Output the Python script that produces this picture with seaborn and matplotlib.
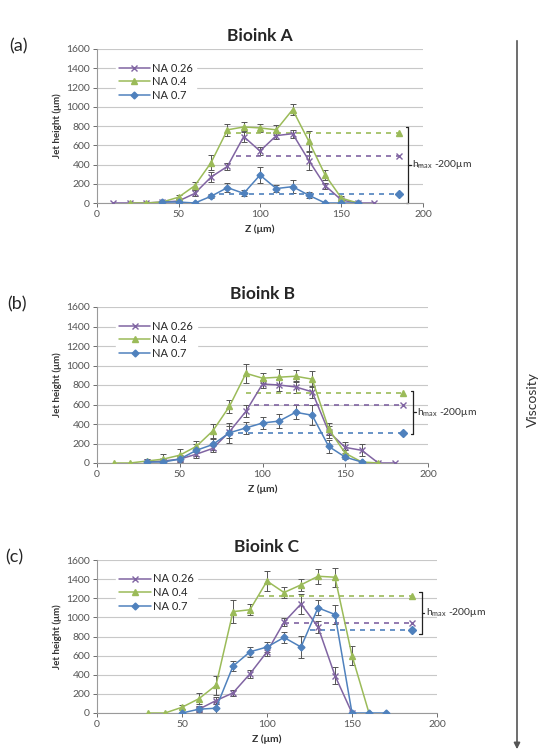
import matplotlib
matplotlib.use("Agg")
import matplotlib.pyplot as plt
import seaborn as sns
import pandas as pd

# ---- data ----
labels = ["NA 0.26", "NA 0.4", "NA 0.7"]

a_z_026 = [10, 20, 30, 40, 50, 60, 70, 80, 90, 100, 110, 120, 130, 140, 150, 160, 170]
a_h_026 = [0, 0, 0, 10, 20, 100, 270, 380, 690, 540, 700, 720, 440, 180, 30, 0, 0]
a_e_026 = [0, 0, 0, 10, 10, 30, 50, 40, 60, 40, 40, 40, 100, 30, 10, 0, 0]
a_z_04 = [20, 30, 40, 50, 60, 70, 80, 90, 100, 110, 120, 130, 140, 150, 160]
a_h_04 = [0, 0, 10, 60, 180, 420, 760, 790, 780, 760, 970, 640, 290, 50, 0]
a_e_04 = [0, 0, 10, 20, 40, 80, 60, 50, 40, 50, 60, 110, 50, 20, 0]
a_z_07 = [40, 50, 60, 70, 80, 90, 100, 110, 120, 130, 140, 150, 160]
a_h_07 = [10, 10, 0, 70, 160, 100, 290, 150, 170, 80, 0, 0, 0]
a_e_07 = [10, 10, 0, 20, 50, 30, 80, 40, 70, 30, 0, 0, 0]

b_z_026 = [30, 40, 50, 60, 70, 80, 90, 100, 110, 120, 130, 140, 150, 160, 170, 180]
b_h_026 = [10, 20, 40, 90, 150, 320, 530, 810, 800, 780, 730, 320, 160, 130, 0, 0]
b_e_026 = [10, 20, 30, 40, 40, 60, 60, 40, 60, 60, 60, 60, 60, 60, 0, 0]
b_z_04 = [10, 20, 30, 40, 50, 60, 70, 80, 90, 100, 110, 120, 130, 140, 150, 160, 170]
b_h_04 = [0, 0, 20, 40, 80, 170, 330, 580, 920, 870, 880, 890, 860, 350, 100, 10, 0]
b_e_04 = [0, 0, 20, 50, 60, 60, 70, 70, 100, 50, 80, 60, 80, 60, 30, 10, 0]
b_z_07 = [30, 40, 50, 60, 70, 80, 90, 100, 110, 120, 130, 140, 150, 160]
b_h_07 = [10, 10, 40, 130, 190, 310, 360, 410, 430, 520, 490, 170, 60, 10]
b_e_07 = [10, 20, 40, 60, 60, 100, 60, 60, 70, 70, 100, 70, 20, 10]

c_z_026 = [60, 70, 80, 90, 100, 110, 120, 130, 140, 150]
c_h_026 = [40, 130, 210, 410, 640, 950, 1140, 900, 390, 0]
c_e_026 = [20, 40, 30, 40, 40, 40, 100, 60, 90, 0]
c_z_04 = [30, 40, 50, 60, 70, 80, 90, 100, 110, 120, 130, 140, 150, 160]
c_h_04 = [0, 0, 60, 150, 290, 1060, 1080, 1380, 1260, 1340, 1430, 1420, 600, 0]
c_e_04 = [0, 0, 20, 60, 100, 120, 60, 100, 60, 60, 80, 100, 100, 0]
c_z_07 = [50, 60, 70, 80, 90, 100, 110, 120, 130, 140, 150, 160, 170]
c_h_07 = [0, 40, 50, 490, 640, 690, 790, 690, 1100, 1030, 0, 0, 0]
c_e_07 = [0, 30, 60, 50, 50, 50, 60, 120, 80, 100, 0, 0, 0]

# dashed "steady" levels: (level, start z) per NA, end at z=185
a_levels = [490, 730, 90]
a_starts = [85, 85, 75]
b_levels = [600, 720, 310]
b_starts = [95, 90, 85]
c_levels = [940, 1220, 870]
c_starts = [110, 95, 125]
level_end = 185

# bracket span (bottom, top) per panel
a_bracket = (0, 790)
b_bracket = (300, 740)
c_bracket = (830, 1270)

colors = ["#8064A2", "#9BBB59", "#4F81BD"]
markers = ["x", "^", "D"]

sns.set_style("white")
plt.rcParams["font.family"] = ["Lato", "DejaVu Sans"]

fig = plt.figure(figsize=(5.41, 7.56), dpi=100)
W, H = 541.0, 756.0


def px_axes(x0, x1, ytop, ybot):
    return fig.add_axes([x0 / W, 1 - ybot / H, (x1 - x0) / W, (ybot - ytop) / H])


panels = [
    ("Bioink A", "(a)", px_axes(97, 423, 49, 203),
     [(a_z_026, a_h_026, a_e_026), (a_z_04, a_h_04, a_e_04), (a_z_07, a_h_07, a_e_07)],
     a_levels, a_starts, a_bracket),
    ("Bioink B", "(b)", px_axes(97, 428, 307, 463),
     [(b_z_026, b_h_026, b_e_026), (b_z_04, b_h_04, b_e_04), (b_z_07, b_h_07, b_e_07)],
     b_levels, b_starts, b_bracket),
    ("Bioink C", "(c)", px_axes(97, 437, 560, 713),
     [(c_z_026, c_h_026, c_e_026), (c_z_04, c_h_04, c_e_04), (c_z_07, c_h_07, c_e_07)],
     c_levels, c_starts, c_bracket),
]

for title, tag, ax, series, levels, starts, bracket in panels:
    for i, (z, h, e) in enumerate(series):
        df = pd.DataFrame({"z": z, "h": h})
        ax.errorbar(z, h, yerr=e, fmt="none", ecolor="#555555", elinewidth=0.7,
                    capsize=2, capthick=0.7, zorder=2)
        sns.lineplot(data=df, x="z", y="h", ax=ax, color=colors[i], marker=markers[i],
                     markersize=4 if markers[i] != "D" else 3.5, markeredgecolor=colors[i],
                     markeredgewidth=1, linewidth=1.1, label=labels[i], zorder=3)
    for i in range(3):
        ax.plot([starts[i], level_end], [levels[i], levels[i]], ls=(0, (3, 3)),
                color=colors[i], lw=1.2, zorder=2.5)
        ax.plot([level_end], [levels[i]], marker=markers[i], color=colors[i],
                markersize=4, zorder=3)

    ax.set_xlim(0, 200)
    ax.set_ylim(0, 1600)
    ax.set_xticks([0, 50, 100, 150, 200])
    ax.set_yticks(range(0, 1601, 200))
    ax.grid(axis="y", color="#c8c8c8", lw=0.8)
    ax.set_axisbelow(True)
    for s in ["top", "right"]:
        ax.spines[s].set_visible(False)
    for s in ["left", "bottom"]:
        ax.spines[s].set_color("#9a9a9a")
        ax.spines[s].set_linewidth(0.8)
    ax.tick_params(axis="both", labelsize=7.5, colors="#555555", length=3, width=0.6,
                   direction="out", bottom=True, left=True, pad=2)
    ax.set_xlabel("Z (μm)", fontsize=7.5, fontweight="bold", color="#333333", labelpad=4)
    ax.set_ylabel("Jet height (μm)", fontsize=7, fontweight="bold", color="#333333", labelpad=3)
    ax.set_title(title, fontsize=12.5, fontweight="bold", pad=6)
    ax.text(-0.27, 1.02, tag, transform=ax.transAxes, fontsize=13, va="center", ha="left")

    leg = ax.legend(loc="upper left", frameon=True, fontsize=8, handlelength=2.8,
                    labelspacing=0.25, borderpad=0.3, handletextpad=0.2,
                    bbox_to_anchor=(0.04, 0.97))
    leg.get_frame().set_edgecolor("white")
    leg.get_frame().set_facecolor("white")
    leg.get_frame().set_alpha(1)

    # bracket
    bx = 191
    b0, b1 = bracket
    ax.plot([bx, bx], [b0, b1], color="#222222", lw=0.9, clip_on=False)
    ax.plot([bx - 1.5, bx], [b0, b0], color="#222222", lw=0.9, clip_on=False)
    ax.plot([bx - 1.5, bx], [b1, b1], color="#222222", lw=0.9, clip_on=False)
    ax.plot([bx, bx + 1.5], [(b0 + b1) / 2] * 2, color="#222222", lw=0.9, clip_on=False)
    ax.text(bx + 2.5, (b0 + b1) / 2, r"h$_{\mathregular{max}}$ -200μm", fontsize=7.5,
            va="center", ha="left", color="#333333")

# viscosity arrow
fig.add_artist(matplotlib.patches.FancyArrowPatch(
    (517 / W, 1 - 38 / H), (517 / W, 1 - 752 / H), transform=fig.transFigure,
    arrowstyle="-|>", mutation_scale=9, color="#555555", lw=1.2))
fig.text(533 / W, 1 - 400 / H, "Viscosity", rotation=90, fontsize=10,
         va="center", ha="center", color="#333333")

fig.savefig("out.png", dpi=100)
